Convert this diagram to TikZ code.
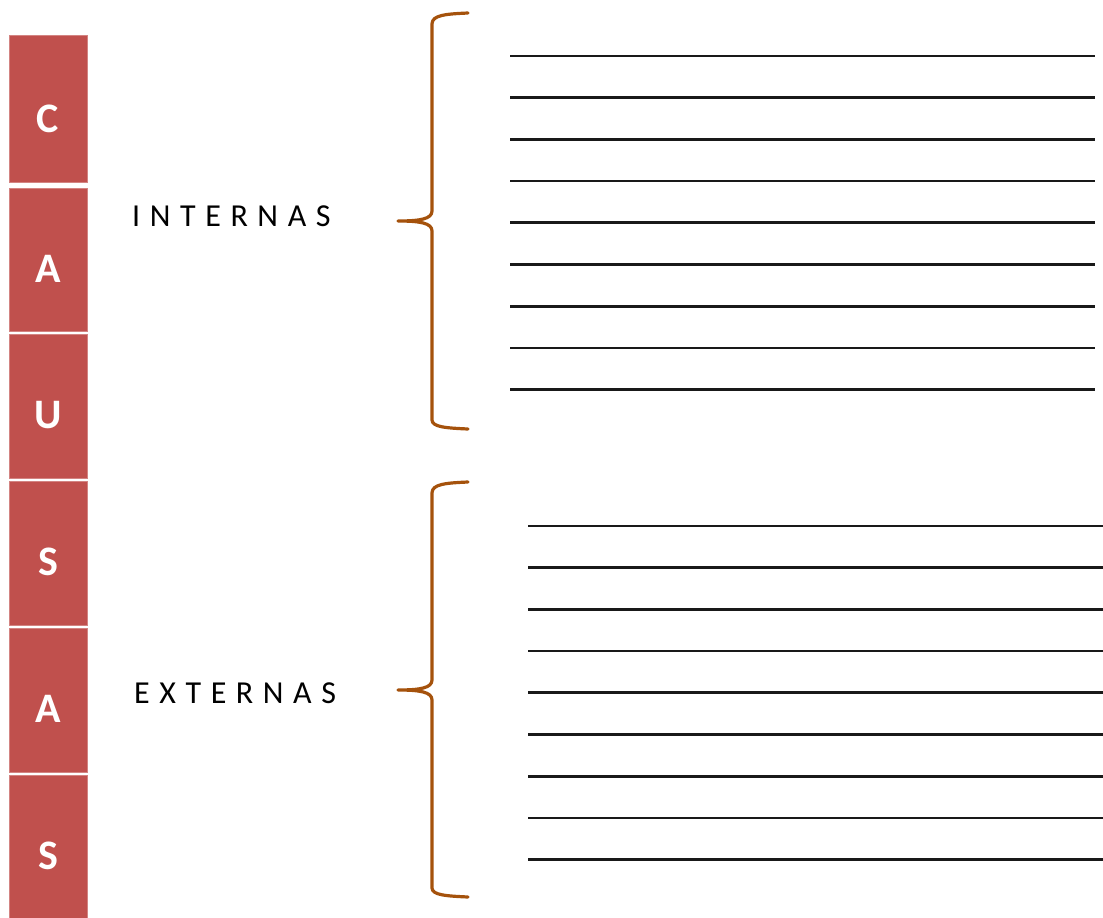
\documentclass[tikz,border=0pt]{standalone}
\usepackage{fontspec}
\setmainfont{Carlito}
\newfontfamily\spacedfont[LetterSpace=30]{Carlito}
\definecolor{boxred}{HTML}{C0504D}
\definecolor{bracebrown}{HTML}{A5520C}
\begin{document}
\begin{tikzpicture}[x=1pt,y=-1pt,
  cellbox/.style={fill=boxred, draw=boxred!70!white, line width=0.6pt},
  cellletter/.style={anchor=base, text=white, font=\fontsize{42}{42}\selectfont\bfseries, inner sep=0pt},
  grouplabel/.style={anchor=base west, font=\spacedfont\fontsize{32}{32}\selectfont, inner sep=0pt},
  bracepath/.style={draw=bracebrown, line width=3.2pt, line cap=round, line join=round},
  ruleline/.style={draw=black!90, line width=2.7pt}
]
\useasboundingbox (0,0) rectangle (1103,918);
% column of boxes
\path[cellbox] (9,35) rectangle (87,182);
\path[cellbox] (9,188) rectangle (87,331);
\path[cellbox] (9,334) rectangle (87,478);
\path[cellbox] (9,481) rectangle (87,625);
\path[cellbox] (9,628) rectangle (87,772);
\path[cellbox] (9,775) rectangle (87,920);
\node[cellletter] (c1) at (48,132) {C};
\node[cellletter] (c2) at (48,282) {A};
\node[cellletter] (c3) at (48,428) {U};
\node[cellletter] (c4) at (48,575) {S};
\node[cellletter] (c5) at (48,722) {A};
\node[cellletter] (c6) at (48,869) {S};
% labels
\node[grouplabel] (internas) at (132,226) {INTERNAS};
\node[grouplabel] (externas) at (134,703) {EXTERNAS};
% braces
\path[bracepath] (468,13) .. controls (446,14) and (432,15) .. (432,24) -- (432,211)
  .. controls (432,219) and (420,221) .. (398,221)
  .. controls (420,221) and (432,223) .. (432,231) -- (432,420)
  .. controls (432,427) and (446,428) .. (468,429);
\path[bracepath] (468,482) .. controls (446,483) and (432,484) .. (432,493) -- (432,680)
  .. controls (432,688) and (420,690) .. (398,690)
  .. controls (420,690) and (432,692) .. (432,700) -- (432,888)
  .. controls (432,895) and (446,896) .. (468,897);
% upper lines
\foreach \i in {0,...,8} {
  \coordinate (ua\i) at (510,{56+41.7*\i});
  \coordinate (ub\i) at (1095,{56+41.7*\i});
  \draw[ruleline] (ua\i) -- (ub\i);
}
% lower lines
\foreach \i in {0,...,8} {
  \coordinate (la\i) at (528,{526+41.7*\i});
  \coordinate (lb\i) at (1103,{526+41.7*\i});
  \draw[ruleline] (la\i) -- (lb\i);
}
\end{tikzpicture}
\end{document}
